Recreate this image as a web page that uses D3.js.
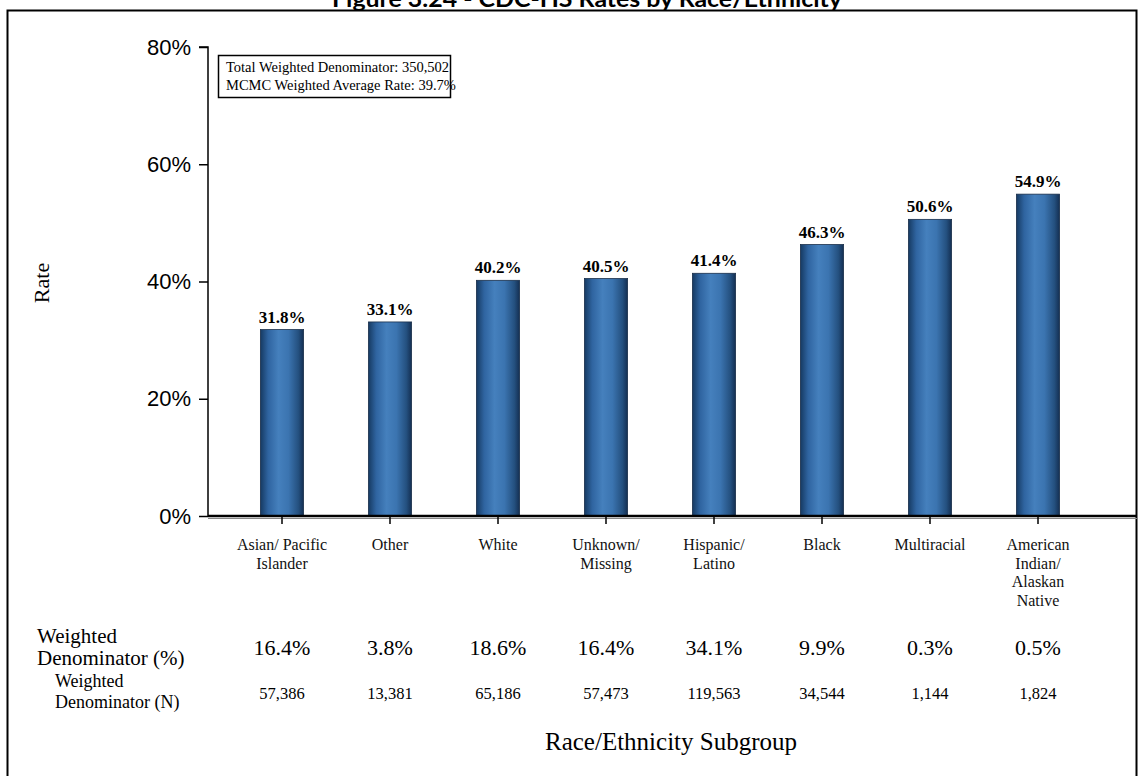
<!DOCTYPE html>
<html>
<head>
<meta charset="utf-8">
<script src="https://cdn.jsdelivr.net/npm/d3@7"></script>
<style>
  html, body { margin: 0; padding: 0; background: #fff; }
  svg { display: block; }
</style>
</head>
<body>
<svg id="chart" width="1144" height="776"></svg>
<script>
// Chart data
const categories = ["Asian/ Pacific Islander", "Other", "White", "Unknown/ Missing",
                    "Hispanic/ Latino", "Black", "Multiracial", "American Indian/ Alaskan Native"];
const categoryLines = [
  ["Asian/ Pacific", "Islander"],
  ["Other"],
  ["White"],
  ["Unknown/", "Missing"],
  ["Hispanic/", "Latino"],
  ["Black"],
  ["Multiracial"],
  ["American", "Indian/", "Alaskan", "Native"]
];
const rates = [31.8, 33.1, 40.2, 40.5, 41.4, 46.3, 50.6, 54.9];
const denomPct = ["16.4%", "3.8%", "18.6%", "16.4%", "34.1%", "9.9%", "0.3%", "0.5%"];
const denomN = ["57,386", "13,381", "65,186", "57,473", "119,563", "34,544", "1,144", "1,824"];
const yTicks = [0, 20, 40, 60, 80];
const infoLines = ["Total Weighted Denominator: 350,502", "MCMC Weighted Average Rate: 39.7%"];
const titleText = "Figure 3.24 - CDC-HS Rates by Race/Ethnicity";

const svg = d3.select("#chart");
const serif = "'Liberation Serif', 'Times New Roman', serif";
const sans = "'Liberation Sans', Arial, sans-serif";

// Title (sits above the frame, partly beyond the top edge)
svg.append("text")
  .attr("x", 587).attr("y", 7)
  .attr("text-anchor", "middle")
  .attr("font-family", "Lato, 'Open Sans', sans-serif")
  .attr("font-weight", "bold")
  .attr("font-size", 22)
  .attr("textLength", 510)
  .attr("lengthAdjust", "spacingAndGlyphs")
  .text(titleText);

// Outer frame
svg.append("rect")
  .attr("x", 7.5).attr("y", 10.5)
  .attr("width", 1129).attr("height", 780)
  .attr("fill", "none").attr("stroke", "#000").attr("stroke-width", 2);

// Scales
const x = d3.scaleBand().domain(categories).range([228, 1092]).paddingInner(0.6).paddingOuter(0.3);
const y = d3.scaleLinear().domain([0, 80]).range([516, 47]);

// Bar gradient
const defs = svg.append("defs");
const grad = defs.append("linearGradient").attr("id", "barGrad")
  .attr("x1", "0%").attr("x2", "100%").attr("y1", "0%").attr("y2", "0%");
[["0%", "#163a62"], ["18%", "#2f64a0"], ["42%", "#4580bd"], ["65%", "#3b74b0"], ["88%", "#24507f"], ["100%", "#142f52"]]
  .forEach(([o, c]) => grad.append("stop").attr("offset", o).attr("stop-color", c));

// Y axis
const yAxis = d3.axisLeft(y).tickValues(yTicks).tickFormat(d => d + "%").tickSize(9).tickPadding(8);
const gy = svg.append("g").attr("transform", "translate(208,0)").call(yAxis);
gy.select(".domain").attr("stroke", "#000").attr("stroke-width", 1.5).attr("d", "M-9,47H0V516");
gy.selectAll(".tick line").attr("stroke", "#000").attr("stroke-width", 1.5);
gy.selectAll(".tick text").attr("font-family", sans).attr("font-size", 22).attr("fill", "#000");

// Y axis title
svg.append("text")
  .attr("transform", "translate(49,283) rotate(-90)")
  .attr("text-anchor", "middle")
  .attr("font-family", serif).attr("font-size", 22)
  .text("Rate");

// Bars
svg.append("g").selectAll("rect")
  .data(rates)
  .join("rect")
  .attr("x", (d, i) => x(categories[i]))
  .attr("y", d => y(d))
  .attr("width", x.bandwidth())
  .attr("height", d => y(0) - y(d))
  .attr("fill", "url(#barGrad)")
  .attr("stroke", "#1a2f4a").attr("stroke-width", 0.8);

// Value labels
svg.append("g").selectAll("text")
  .data(rates)
  .join("text")
  .attr("x", (d, i) => x(categories[i]) + x.bandwidth() / 2)
  .attr("y", d => y(d) - 7)
  .attr("text-anchor", "middle")
  .attr("font-family", serif).attr("font-weight", "bold").attr("font-size", 17)
  .text(d => d.toFixed(1) + "%");

// X axis (baseline with a faint shadow underneath)
svg.append("line").attr("x1", 208).attr("x2", 1137).attr("y1", 518.5).attr("y2", 518.5)
  .attr("stroke", "#888").attr("stroke-width", 1);
const xAxis = d3.axisBottom(x).tickSize(8).tickFormat("");
const gx = svg.append("g").attr("transform", "translate(0,516)").call(xAxis);
gx.select(".domain").attr("stroke", "#000").attr("stroke-width", 2.5).attr("d", "M208,0H1137");
gx.selectAll(".tick line").attr("stroke", "#000").attr("stroke-width", 1.5);

// Category labels
const catG = svg.append("g");
categoryLines.forEach((lines, i) => {
  const cx = x(categories[i]) + x.bandwidth() / 2;
  const t = catG.append("text")
    .attr("text-anchor", "middle")
    .attr("font-family", serif).attr("font-size", 16).attr("fill", "#111");
  lines.forEach((ln, j) => {
    t.append("tspan").attr("x", cx).attr("y", 550 + j * 18.5).text(ln);
  });
});

// Info box
svg.append("rect")
  .attr("x", 218.5).attr("y", 55.5).attr("width", 232).attr("height", 42)
  .attr("fill", "#fff").attr("stroke", "#000").attr("stroke-width", 1.5);
infoLines.forEach((ln, j) => {
  svg.append("text")
    .attr("x", 226).attr("y", 72 + j * 18)
    .attr("font-family", serif).attr("font-size", 14.5)
    .text(ln);
});

// Table row headers
const rowHead1 = svg.append("text").attr("font-family", serif).attr("font-size", 21);
rowHead1.append("tspan").attr("x", 37).attr("y", 643).text("Weighted");
rowHead1.append("tspan").attr("x", 37).attr("y", 665).text("Denominator (%)");
const rowHead2 = svg.append("text").attr("font-family", serif).attr("font-size", 18);
rowHead2.append("tspan").attr("x", 55).attr("y", 687).text("Weighted");
rowHead2.append("tspan").attr("x", 55).attr("y", 708).text("Denominator (N)");

// Table values
svg.append("g").selectAll("text")
  .data(denomPct)
  .join("text")
  .attr("x", (d, i) => x(categories[i]) + x.bandwidth() / 2)
  .attr("y", 655)
  .attr("text-anchor", "middle")
  .attr("font-family", serif).attr("font-size", 22)
  .text(d => d);
svg.append("g").selectAll("text")
  .data(denomN)
  .join("text")
  .attr("x", (d, i) => x(categories[i]) + x.bandwidth() / 2)
  .attr("y", 699)
  .attr("text-anchor", "middle")
  .attr("font-family", serif).attr("font-size", 16.5)
  .text(d => d);

// X axis title
svg.append("text")
  .attr("x", 671).attr("y", 750)
  .attr("text-anchor", "middle")
  .attr("font-family", serif).attr("font-size", 25)
  .text("Race/Ethnicity Subgroup");
</script>
</body>
</html>
